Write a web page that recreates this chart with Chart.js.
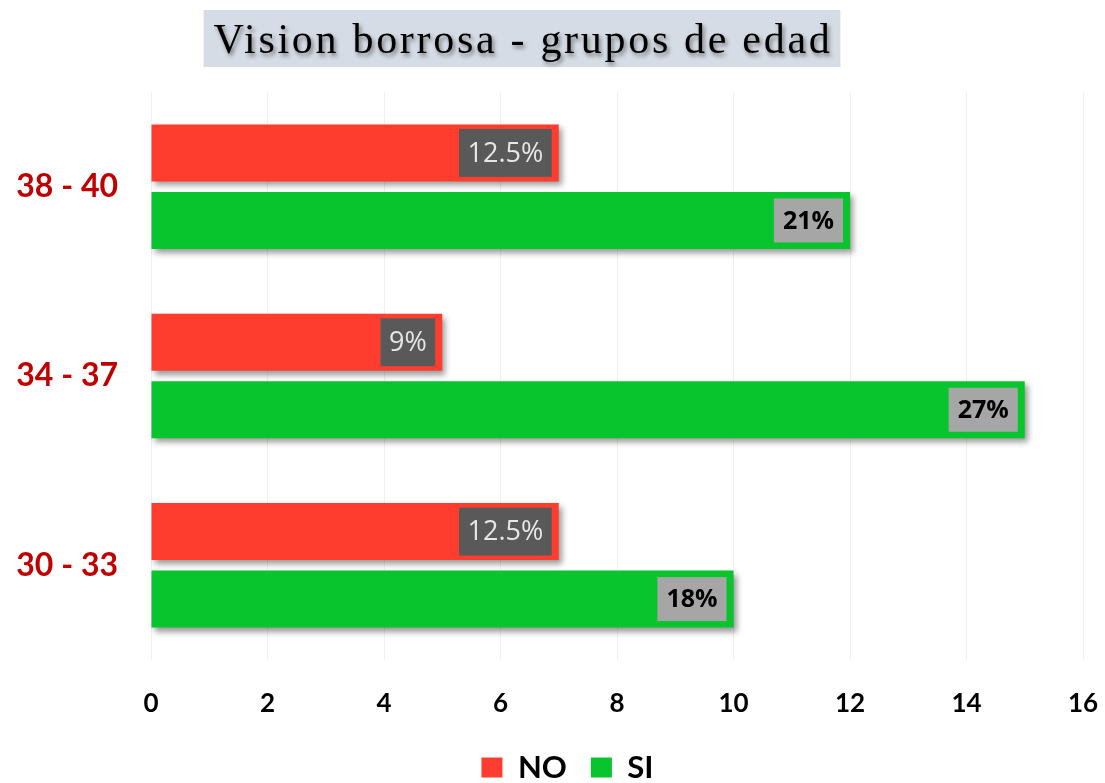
<!DOCTYPE html>
<html>
<head>
<meta charset="utf-8">
<title>Vision borrosa - grupos de edad</title>
<script src="https://cdn.jsdelivr.net/npm/chart.js@4.4.1/dist/chart.umd.min.js"></script>
<style>
  html, body { margin: 0; padding: 0; background: #ffffff; }
  #chart { display: block; }
</style>
</head>
<body>
<canvas id="chart" width="1105" height="783"></canvas>
<script>
// datos
const categories = ['38 - 40', '34 - 37', '30 - 33'];
const noValues   = [7, 5, 7];
const siValues   = [12, 15, 10];
const noLabels   = ['12.5%', '9%', '12.5%'];
const siLabels   = ['21%', '27%', '18%'];
const xTicks     = [0, 2, 4, 6, 8, 10, 12, 14, 16];

const titleText = 'Vision borrosa - grupos de edad';

// titulo con fondo gris azulado y sombra
const titleBox = {
  id: 'titleBox',
  afterLayout(chart) {
    // la leyenda del original esta un poco a la derecha del centro
    if (chart.legend) { chart.legend.left += 15; chart.legend.right += 15; }
  },
  afterDraw(chart) {
    const ctx = chart.ctx;
    ctx.save();
    ctx.font = '42px "Liberation Serif", "Times New Roman", serif';
    ctx.letterSpacing = '2.7px';
    const w = ctx.measureText(titleText).width;
    const cx = 523;
    ctx.fillStyle = '#d6dce5';
    ctx.fillRect(cx - w / 2 - 10, 10, w + 18, 57);
    ctx.shadowColor = 'rgba(0,0,0,0.45)';
    ctx.shadowBlur = 4;
    ctx.shadowOffsetX = 2;
    ctx.shadowOffsetY = 3;
    ctx.fillStyle = '#000000';
    ctx.textBaseline = 'alphabetic';
    ctx.textAlign = 'left';
    ctx.fillText(titleText, cx - w / 2, 53);
    ctx.restore();
  }
};

// sombra de las barras + etiquetas de porcentaje
const barDecor = {
  id: 'barDecor',
  beforeDatasetsDraw(chart) {
    const ctx = chart.ctx;
    ctx.save();
    ctx.shadowColor = 'rgba(0,0,0,0.4)';
    ctx.shadowBlur = 6;
    ctx.shadowOffsetX = 3;
    ctx.shadowOffsetY = 4;
  },
  afterDatasetsDraw(chart) {
    const ctx = chart.ctx;
    ctx.restore();
    ctx.save();
    const styles = [
      { labels: noLabels, font: '27px "Open Sans", sans-serif', bg: '#595959', fg: '#e6e6e6', pad: 8.5, h: 48 },
      { labels: siLabels, font: 'bold 25px "Open Sans", sans-serif', bg: '#a6a6a6', fg: '#000000', pad: 9, h: 44 }
    ];
    styles.forEach((st, di) => {
      const meta = chart.getDatasetMeta(di);
      ctx.font = st.font;
      meta.data.forEach((bar, i) => {
        const txt = st.labels[i];
        const tw = ctx.measureText(txt).width;
        const bw = tw + st.pad * 2;
        const right = bar.x - 7;
        ctx.fillStyle = st.bg;
        ctx.fillRect(right - bw, bar.y - st.h / 2, bw, st.h);
        ctx.fillStyle = st.fg;
        ctx.textAlign = 'center';
        ctx.textBaseline = 'middle';
        ctx.fillText(txt, right - bw / 2, bar.y + 1);
      });
    });
    ctx.restore();
  }
};

new Chart(document.getElementById('chart'), {
  type: 'bar',
  data: {
    labels: categories,
    datasets: [
      { label: 'NO', data: noValues, backgroundColor: '#ff3d2f', borderWidth: 0 },
      { label: 'SI', data: siValues, backgroundColor: '#08c42d', borderWidth: 0 }
    ]
  },
  options: {
    indexAxis: 'y',
    responsive: false,
    animation: false,
    devicePixelRatio: 1,
    categoryPercentage: 0.713,
    barPercentage: 0.845,
    layout: { padding: { top: 92, right: 0, left: 0, bottom: -10 } },
    scales: {
      x: {
        min: 0,
        max: 16,
        afterBuildTicks(scale) { scale.ticks = xTicks.map(v => ({ value: v })); },
        afterFit(scale) { scale.height = 68; scale.paddingRight = 22; },
        grid: { color: '#f0f0f0', lineWidth: 1, drawTicks: false },
        border: { display: false },
        ticks: {
          padding: 28,
          color: '#000000',
          font: { family: 'Lato', size: 26, weight: 'bold' }
        }
      },
      y: {
        afterFit(scale) { scale.width = 151; },
        grid: { display: false, drawTicks: false },
        border: { display: false },
        ticks: {
          padding: 33,
          color: '#c00000',
          font: { family: 'Lato', size: 32, weight: 'bold' }
        }
      }
    },
    plugins: {
      title: { display: false },
      tooltip: { enabled: false },
      legend: {
        position: 'bottom',
        labels: {
          boxWidth: 21,
          boxHeight: 20,
          padding: 24,
          color: '#000000',
          font: { family: 'Lato', size: 31, weight: 'bold' }
        }
      }
    }
  },
  plugins: [titleBox, barDecor]
});
</script>
</body>
</html>
